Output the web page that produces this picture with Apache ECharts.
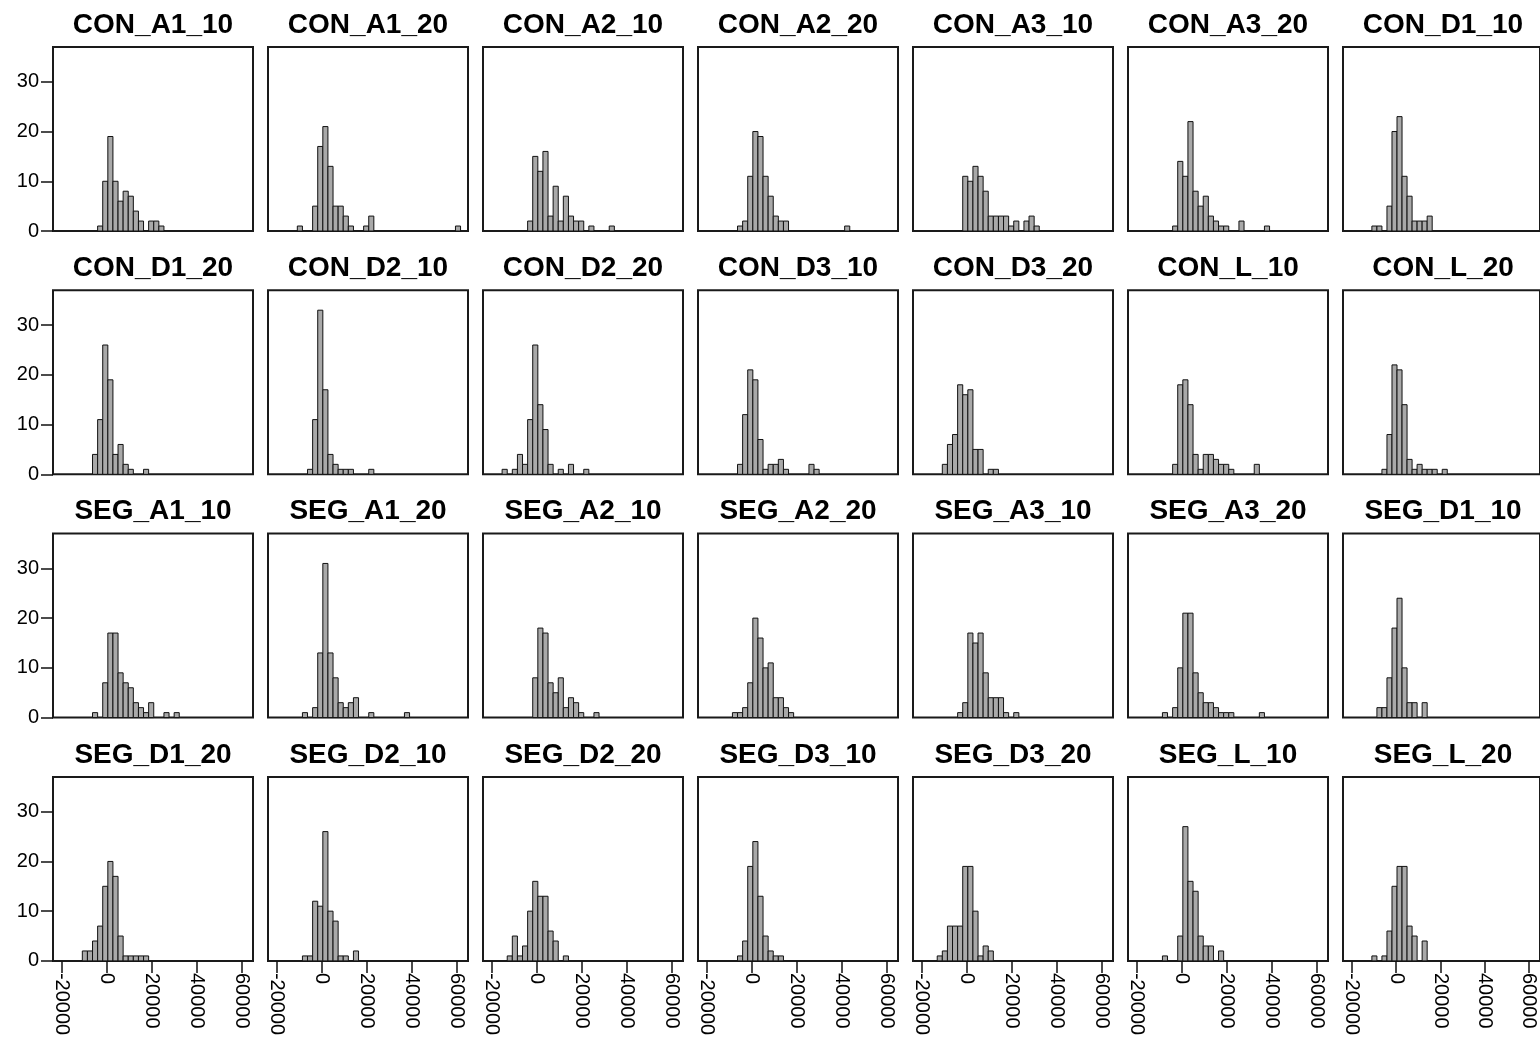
<!DOCTYPE html>
<html>
<head>
<meta charset="utf-8">
<script src="https://cdn.jsdelivr.net/npm/echarts@6/dist/echarts.min.js"></script>
<style>
  html, body { margin: 0; padding: 0; background: #fff; }
  #main { width: 1540px; height: 1044px; }
</style>
</head>
<body>
<div id="main"></div>
<script>
// bins shared by all panels: bin k covers [binOrigin + k*binWidth, binOrigin + (k+1)*binWidth]
const binOrigin = -1870;
const binWidth = 2270;

const xTicks = [-20000, 0, 20000, 40000, 60000];
const yTicks = [0, 10, 20, 30];

const panelNames = [
  'CON_A1_10', 'CON_A1_20', 'CON_A2_10', 'CON_A2_20', 'CON_A3_10', 'CON_A3_20', 'CON_D1_10',
  'CON_D1_20', 'CON_D2_10', 'CON_D2_20', 'CON_D3_10', 'CON_D3_20', 'CON_L_10', 'CON_L_20',
  'SEG_A1_10', 'SEG_A1_20', 'SEG_A2_10', 'SEG_A2_20', 'SEG_A3_10', 'SEG_A3_20', 'SEG_D1_10',
  'SEG_D1_20', 'SEG_D2_10', 'SEG_D2_20', 'SEG_D3_10', 'SEG_D3_20', 'SEG_L_10', 'SEG_L_20'
];

// index of the first bin of each panel's counts
const firstBins = [
  -1, -4, -1, -2, 0, -1, -4,
  -2, -2, -6, -2, -4, -1, -2,
  -2, -3, 0, -3, -1, -3, -3,
  -4, -3, -5, -2, -5, -3, -4
];

// counts per bin
const CON_A1_10 = [1, 10, 19, 10, 6, 8, 7, 4, 2, 0, 2, 2, 1];
const CON_A1_20 = [1, 0, 0, 5, 17, 21, 13, 5, 5, 3, 1, 0, 0, 1, 3, 0, 0, 0, 0, 0, 0, 0, 0, 0, 0, 0, 0, 0, 0, 0, 0, 1];
const CON_A2_10 = [2, 15, 12, 16, 3, 9, 2, 7, 3, 2, 2, 0, 1, 0, 0, 0, 1];
const CON_A2_20 = [1, 2, 11, 20, 19, 11, 7, 3, 2, 2, 0, 0, 0, 0, 0, 0, 0, 0, 0, 0, 0, 1];
const CON_A3_10 = [11, 10, 13, 11, 8, 3, 3, 3, 3, 1, 2, 0, 2, 3, 1];
const CON_A3_20 = [1, 14, 11, 22, 8, 5, 7, 3, 2, 1, 1, 0, 0, 2, 0, 0, 0, 0, 1];
const CON_D1_10 = [1, 1, 0, 5, 20, 23, 11, 7, 2, 2, 2, 3];

const CON_D1_20 = [4, 11, 26, 19, 4, 6, 2, 1, 0, 0, 1];
const CON_D2_10 = [1, 11, 33, 17, 4, 2, 1, 1, 1, 0, 0, 0, 1];
const CON_D2_20 = [1, 0, 1, 4, 2, 11, 26, 14, 9, 2, 0, 1, 0, 2, 0, 0, 1];
const CON_D3_10 = [2, 12, 21, 19, 7, 1, 2, 2, 3, 1, 0, 0, 0, 0, 2, 1];
const CON_D3_20 = [2, 6, 8, 18, 16, 17, 5, 5, 0, 1, 1];
const CON_L_10 = [2, 18, 19, 14, 4, 1, 4, 4, 3, 2, 2, 1, 0, 0, 0, 0, 2];
const CON_L_20 = [1, 8, 22, 21, 14, 3, 1, 2, 1, 1, 1, 0, 1];

const SEG_A1_10 = [1, 0, 7, 17, 17, 9, 7, 6, 3, 2, 1, 3, 0, 0, 1, 0, 1];
const SEG_A1_20 = [1, 0, 2, 13, 31, 13, 8, 3, 2, 3, 4, 0, 0, 1, 0, 0, 0, 0, 0, 0, 1];
const SEG_A2_10 = [8, 18, 17, 7, 5, 8, 2, 4, 3, 1, 0, 0, 1];
const SEG_A2_20 = [1, 1, 2, 7, 20, 16, 10, 11, 4, 4, 2, 1];
const SEG_A3_10 = [1, 3, 17, 15, 17, 9, 4, 4, 4, 1, 0, 1];
const SEG_A3_20 = [1, 0, 2, 10, 21, 21, 9, 5, 3, 3, 2, 1, 1, 1, 0, 0, 0, 0, 0, 1];
const SEG_D1_10 = [2, 2, 8, 18, 24, 10, 3, 3, 0, 3];

const SEG_D1_20 = [2, 2, 4, 7, 15, 20, 17, 5, 1, 1, 1, 1, 1];
const SEG_D2_10 = [1, 1, 12, 11, 26, 10, 8, 1, 1, 0, 2];
const SEG_D2_20 = [1, 5, 1, 3, 10, 16, 13, 13, 6, 4, 0, 1];
const SEG_D3_10 = [1, 4, 19, 24, 13, 5, 2, 1, 1];
const SEG_D3_20 = [1, 2, 7, 7, 7, 19, 19, 10, 1, 3, 2];
const SEG_L_10 = [1, 0, 0, 5, 27, 16, 14, 5, 3, 3, 0, 2];
const SEG_L_20 = [1, 0, 1, 6, 15, 19, 19, 7, 5, 0, 4];

const panelCounts = [
  CON_A1_10, CON_A1_20, CON_A2_10, CON_A2_20, CON_A3_10, CON_A3_20, CON_D1_10,
  CON_D1_20, CON_D2_10, CON_D2_20, CON_D3_10, CON_D3_20, CON_L_10, CON_L_20,
  SEG_A1_10, SEG_A1_20, SEG_A2_10, SEG_A2_20, SEG_A3_10, SEG_A3_20, SEG_D1_10,
  SEG_D1_20, SEG_D2_10, SEG_D2_20, SEG_D3_10, SEG_D3_20, SEG_L_10, SEG_L_20
];

var FONT = 'Liberation Sans, Arial, sans-serif';
var NCOL = 7, NROW = 4;
var gridW = 200, gridH = 184;

function gridLeft(col) { return 53 + col * 215; }
function gridTop(row) { return 47 + row * 243.3; }

function renderBar(params, api) {
  var p0 = api.coord([api.value(0), api.value(2)]);
  var p1 = api.coord([api.value(1), 0]);
  return {
    type: 'rect',
    shape: { x: p0[0], y: p0[1], width: p1[0] - p0[0], height: p1[1] - p0[1] },
    style: { fill: '#a9a9a9', stroke: '#111', lineWidth: 1 }
  };
}

var myChart = echarts.init(document.getElementById('main'));

var grids = [], xAxes = [], yAxes = [], series = [], titles = [];

panelNames.forEach(function (name, i) {
  var row = Math.floor(i / NCOL), col = i % NCOL;
  var bottomRow = row === NROW - 1, firstCol = col === 0;

  grids.push({
    left: gridLeft(col), top: gridTop(row), width: gridW, height: gridH,
    show: true, borderColor: '#1a1a1a', borderWidth: 2, backgroundColor: 'transparent'
  });

  titles.push({
    text: name,
    left: gridLeft(col) + gridW / 2,
    top: gridTop(row) - 36,
    textAlign: 'center',
    padding: 0,
    textStyle: { fontFamily: FONT, fontSize: 28, fontWeight: 'bold', color: '#000' }
  });

  xAxes.push({
    type: 'value', gridIndex: i, min: -24000, max: 65000, position: 'bottom',
    splitLine: { show: false },
    axisLine: { show: false, onZero: false },
    axisTick: { show: bottomRow, customValues: xTicks, length: 12, lineStyle: { color: '#111', width: 1.5 } },
    axisLabel: {
      show: bottomRow, customValues: xTicks, rotate: -90, margin: 12,
      fontFamily: FONT, fontSize: 20, color: '#000',
      formatter: function (v) { return String(v); }
    }
  });

  yAxes.push({
    type: 'value', gridIndex: i, min: 0, max: 37, position: 'left',
    splitLine: { show: false },
    axisLine: { show: false, onZero: false },
    axisTick: { show: firstCol, customValues: yTicks, length: 12, lineStyle: { color: '#111', width: 1.5 } },
    axisLabel: {
      show: firstCol, customValues: yTicks, margin: 14,
      fontFamily: FONT, fontSize: 20, color: '#000'
    }
  });

  var data = [];
  panelCounts[i].forEach(function (c, j) {
    if (c > 0) {
      var k = firstBins[i] + j;
      data.push([binOrigin + k * binWidth, binOrigin + (k + 1) * binWidth, c]);
    }
  });

  series.push({
    type: 'custom', name: name,
    xAxisIndex: i, yAxisIndex: i,
    renderItem: renderBar,
    encode: { x: [0, 1], y: 2 },
    data: data,
    silent: true
  });
});

var option = {
  animation: false,
  backgroundColor: '#fff',
  title: titles,
  grid: grids,
  xAxis: xAxes,
  yAxis: yAxes,
  series: series
};

myChart.setOption(option);
</script>
</body>
</html>
